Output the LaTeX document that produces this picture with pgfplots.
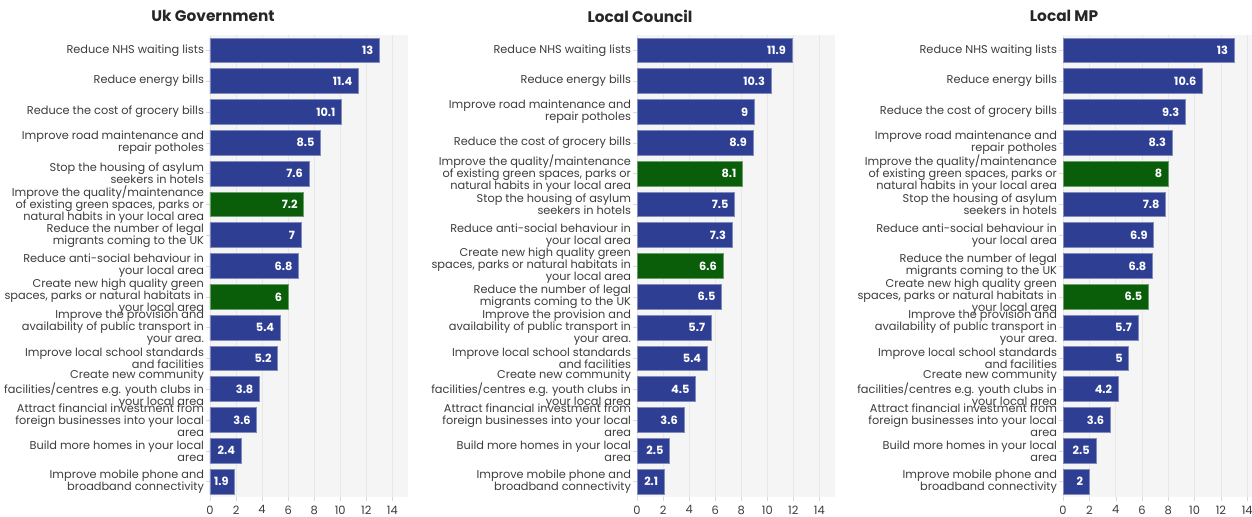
\documentclass[border=0pt]{standalone}
\usepackage{fontspec}
\setmainfont{Poppins}
\usepackage{pgfplots}
\pgfplotsset{compat=1.18}
\definecolor{navy}{RGB}{46,62,147}
\definecolor{grn}{RGB}{10,94,10}
\definecolor{lbl}{RGB}{60,60,60}

\newcommand{\Lnhs}{Reduce NHS waiting lists}
\newcommand{\Lenergy}{Reduce energy bills}
\newcommand{\Lgrocery}{Reduce the cost of grocery bills}
\newcommand{\Lroad}{Improve road maintenance and\\repair potholes}
\newcommand{\Lasylum}{Stop the housing of asylum\\seekers in hotels}
\newcommand{\Lquality}{Improve the quality/maintenance\\of existing green spaces, parks or\\natural habits in your local area}
\newcommand{\Lmigrants}{Reduce the number of legal\\migrants coming to the UK}
\newcommand{\Lanti}{Reduce anti-social behaviour in\\your local area}
\newcommand{\Lnewgreen}{Create new high quality green\\spaces, parks or natural habitats in\\your local area}
\newcommand{\Ltransport}{Improve the provision and\\availability of public transport in\\your area.}
\newcommand{\Lschool}{Improve local school standards\\and facilities}
\newcommand{\Lcommunity}{Create new community\\facilities/centres e.g. youth clubs in\\your local area}
\newcommand{\Linvest}{Attract financial investment from\\foreign businesses into your local\\area}
\newcommand{\Lhomes}{Build more homes in your local\\area}
\newcommand{\Lmobile}{Improve mobile phone and\\broadband connectivity}

\pgfplotsset{panel/.style={
  xbar, bar width=0.8, bar shift=0pt,
  scale only axis, width=148.5pt, height=346.5pt,
  anchor=south west,
  xmin=0, xmax=15.2, ymin=-0.5, ymax=14.5, y dir=reverse,
  xtick={0,2,...,14}, ytick={0,...,14},
  axis background/.style={fill=black!4},
  xmajorgrids, grid style={black!9, line width=0.6pt},
  axis line style={draw=none},
  tick align=outside, major tick length=3pt, tick style={black!15},
  xtick pos=bottom, ytick pos=left,
  /pgf/number format/assume math mode=true,
  xticklabel style={font=\fontsize{8.6}{9}\selectfont, text=lbl},
  yticklabel style={align=right, font=\fontsize{8.5}{9}\selectfont, text=lbl, xshift=2pt},
  nodes near coords,
  every node near coord/.append style={anchor=east, text=white,
    font=\bfseries\fontsize{8.5}{9}\selectfont, xshift=-1pt},
}}

\begin{document}
\begin{tikzpicture}
\useasboundingbox (0,0) rectangle (939pt,387.75pt);

% Uk Government
\node[font=\bfseries\fontsize{11.5}{14}\selectfont, text=black!85] at (159.75pt,375.75pt) {Uk Government};
\begin{axis}[panel, at={(157.5pt,15pt)},
  yticklabels={{\Lnhs},{\Lenergy},{\Lgrocery},{\Lroad},{\Lasylum},{\Lquality},{\Lmigrants},{\Lanti},{\Lnewgreen},{\Ltransport},{\Lschool},{\Lcommunity},{\Linvest},{\Lhomes},{\Lmobile}}]
\addplot[fill=navy, draw=navy!60!white, line width=0.6pt] coordinates {
  (13,0) (11.4,1) (10.1,2) (8.5,3) (7.6,4) (7,6) (6.8,7) (5.4,9) (5.2,10) (3.8,11) (3.6,12) (2.4,13) (1.9,14)};
\addplot[fill=grn, draw=grn!60!white, line width=0.6pt] coordinates {(7.2,5) (6,8)};
\end{axis}

% Local Council
\node[font=\bfseries\fontsize{11.5}{14}\selectfont, text=black!85] at (480pt,375.75pt) {Local Council};
\begin{axis}[panel, at={(477.75pt,15pt)},
  yticklabels={{\Lnhs},{\Lenergy},{\Lroad},{\Lgrocery},{\Lquality},{\Lasylum},{\Lanti},{\Lnewgreen},{\Lmigrants},{\Ltransport},{\Lschool},{\Lcommunity},{\Linvest},{\Lhomes},{\Lmobile}}]
\addplot[fill=navy, draw=navy!60!white, line width=0.6pt] coordinates {
  (11.9,0) (10.3,1) (9,2) (8.9,3) (7.5,5) (7.3,6) (6.5,8) (5.7,9) (5.4,10) (4.5,11) (3.6,12) (2.5,13) (2.1,14)};
\addplot[fill=grn, draw=grn!60!white, line width=0.6pt] coordinates {(8.1,4) (6.6,7)};
\end{axis}

% Local MP
\node[font=\bfseries\fontsize{11.5}{14}\selectfont, text=black!85] at (798pt,375.75pt) {Local MP};
\begin{axis}[panel, at={(797.25pt,15pt)}, width=150pt,
  yticklabels={{\Lnhs},{\Lenergy},{\Lgrocery},{\Lroad},{\Lquality},{\Lasylum},{\Lanti},{\Lmigrants},{\Lnewgreen},{\Ltransport},{\Lschool},{\Lcommunity},{\Linvest},{\Lhomes},{\Lmobile}}]
\addplot[fill=navy, draw=navy!60!white, line width=0.6pt] coordinates {
  (13,0) (10.6,1) (9.3,2) (8.3,3) (7.8,5) (6.9,6) (6.8,7) (5.7,9) (5,10) (4.2,11) (3.6,12) (2.5,13) (2,14)};
\addplot[fill=grn, draw=grn!60!white, line width=0.6pt] coordinates {(8,4) (6.5,8)};
\end{axis}
\end{tikzpicture}
\end{document}
